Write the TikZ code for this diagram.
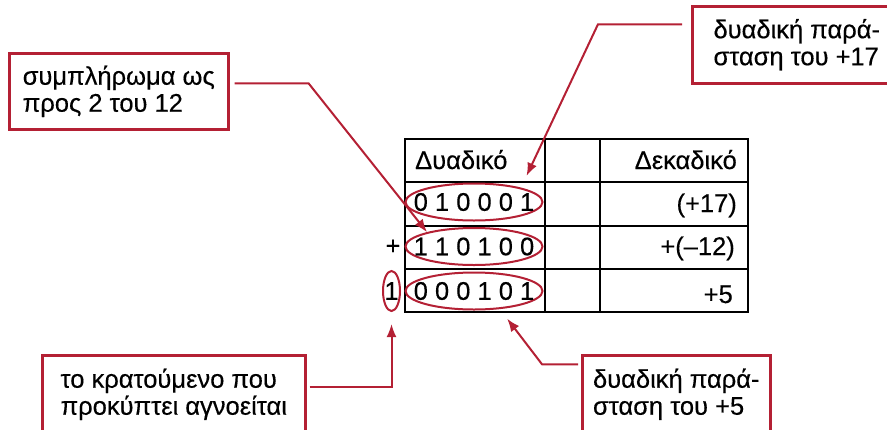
\documentclass[tikz,border=0pt]{standalone}
\usepackage{fontspec}
\setmainfont{Liberation Sans}[FakeBold=0.35]
\usetikzlibrary{arrows.meta,shapes.geometric}
\definecolor{callred}{RGB}{180,32,52}

\begin{document}
\begin{tikzpicture}[x=1pt,y=-1pt,every node/.style={font=\fontsize{25.5}{27}\selectfont}]
\tikzset{oval/.style = {shape=ellipse,draw=callred,line width=2pt,minimum width=137pt,minimum height=37pt,inner sep=0pt}}
\tikzset{box/.style = {draw=callred,line width=2.5pt,anchor=north west,align=left,inner sep=2pt}}
\tikzset{callout/.style = {->,> = {Latex[length=13pt,width=10pt]},draw=callred,line width=2pt}}
\tikzset{grid/.style = {line width=1.5pt}}
\useasboundingbox (0,0) rectangle (887,429);

% table
\draw[grid] (405,139) rectangle (748,312);
\draw[grid] (545,139) -- (545,312);
\draw[grid] (600,139) -- (600,312);
\draw[grid] (405,182) -- (748,182);
\draw[grid] (405,226) -- (748,226);
\draw[grid] (405,269) -- (748,269);

% headers
\node[anchor=base west,inner sep=0pt] (hbin) at (415,169) {Δυαδικό};
\node[anchor=base east,inner sep=0pt] (hdec) at (737,169) {Δεκαδικό};

% binary rows
\node[oval] (ova) at (474,202) {};
\node[oval] (ovb) at (474,246.5) {};
\node[oval] (ovc) at (474,291) {};
\node[inner sep=0pt] (bina) at (ova) {0 1 0 0 0 1};
\node[inner sep=0pt] (binb) at (ovb) {1 1 0 1 0 0};
\node[inner sep=0pt] (binc) at (ovc) {0 0 0 1 0 1};
\node[inner sep=0pt] (plus) at (393,247) {+};
\node[oval,minimum width=17pt,minimum height=40pt] (ovone) at (391.5,291) {};
\node[inner sep=0pt] (carry) at (ovone) {1};

% decimal rows
\node[anchor=base east,inner sep=0pt] (deca) at (737,212) {(+17)};
\node[anchor=base east,inner sep=0pt] (decb) at (735,255) {+(–12)};
\node[anchor=base east,inner sep=0pt] (decc) at (733,303) {+5};

% boxes
\node[box,minimum width=219pt,minimum height=76pt] (cmpl) at (8,52) {συμπλήρωμα ως\\προς 2 του 12};
\node[box,minimum width=209pt,minimum height=77pt] (rep17) at (691,5) {δυαδική παρά-\\σταση του +17};
\node[box,minimum width=263pt,minimum height=78pt] (cbox) at (41,354) {το κρατούμενο που\\προκύπτει αγνοείται};
\node[box,minimum width=188pt,minimum height=78pt] (rep5) at (581,354) {δυαδική παρά-\\σταση του +5};

% callouts
\draw[callout] ([xshift=5pt,yshift=8pt]cmpl.east) -- ++(74,0) -- (ovb.163);
\draw[callout,shorten >=13pt] ([xshift=-9pt,yshift=20.5pt]rep17.west) -- ++(-84,0) -- (ova.17);
\draw[callout,shorten >=12pt] ([xshift=3pt,yshift=7pt]cbox.east) -| (ovone.south);
\draw[callout,shorten >=12pt] ([xshift=-3pt,yshift=30pt]rep5.west) -- ++(-36,0) -- (ovc.-35);
\end{tikzpicture}
\end{document}
